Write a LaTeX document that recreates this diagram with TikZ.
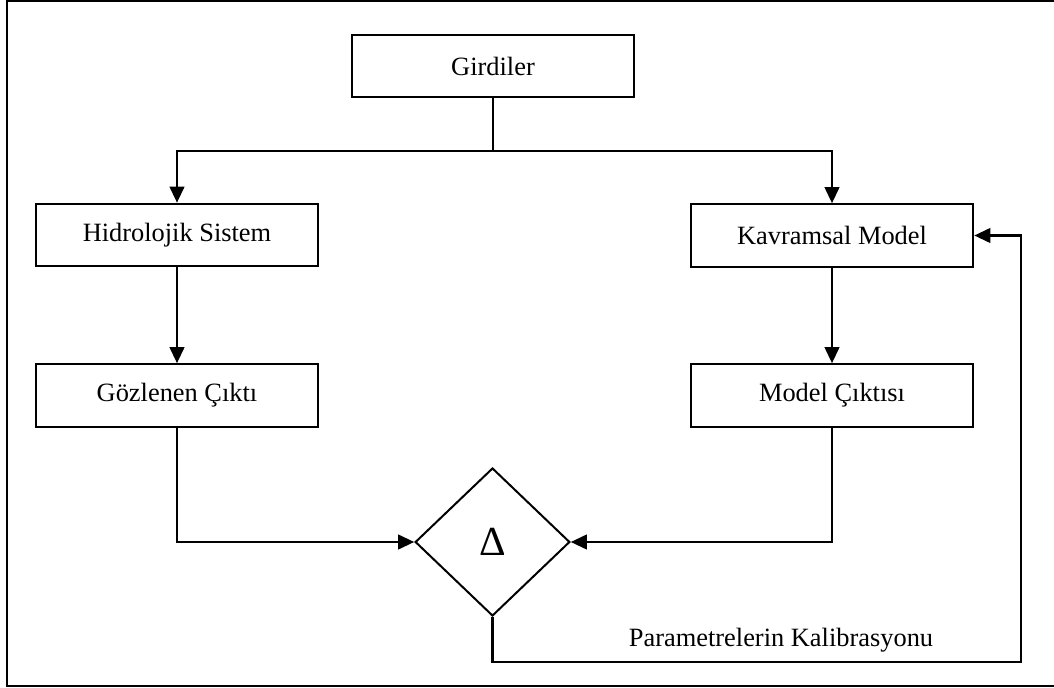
\documentclass[tikz,border=0pt]{standalone}
\usepackage{fontspec}
\setmainfont{Liberation Serif}
\usetikzlibrary{shapes.geometric,arrows.meta}
\begin{document}
\begin{tikzpicture}[x=0.75pt,y=-0.75pt,
  boxnode/.style={draw,line width=1.5pt,minimum width=212pt,minimum height=47pt,inner sep=0pt,font=\fontsize{19.8}{22}\selectfont},
  link/.style={line width=1.6pt},
  arr/.style={link,-{Triangle[length=12pt,width=11pt]}},
  lbl/.style={font=\fontsize{19.8}{22}\selectfont,inner sep=0pt}]
\useasboundingbox (0,0) rectangle (1054,688);
\draw[line width=1.5pt] (7,1) rectangle (1060,686);
\node[boxnode] (gird) at (493,66) {Girdiler};
\node[boxnode] (hid) at (177,235) {Hidrolojik Sistem};
\node[boxnode] (goz) at (177,395.5) {Gözlenen Çıktı};
\node[boxnode] (kav) at (832,235.5) {Kavramsal Model};
\node[boxnode] (mc) at (832,395.5) {Model Çıktısı};
\node[draw,line width=1.5pt,shape=diamond,inner sep=0pt,minimum width=116pt,minimum height=111pt,font=\fontsize{31}{33}\selectfont] (delta) at (492.5,542) {Δ};
\node[lbl] (kal) at (781,640) {Parametrelerin Kalibrasyonu};
\coordinate (split) at (493,151);
\coordinate (fb) at (1021,662);
\draw[link] (gird.south) -- (split);
\draw[arr] (split) -| (hid.north);
\draw[arr] (split) -| (kav.north);
\draw[arr] (hid) -- (goz);
\draw[arr] (kav) -- (mc);
\draw[arr] (goz.south) |- (delta.west);
\draw[arr] (mc.south) |- (delta.east);
\draw[arr] (delta.south) |- (fb) |- (kav.east);
\end{tikzpicture}
\end{document}
